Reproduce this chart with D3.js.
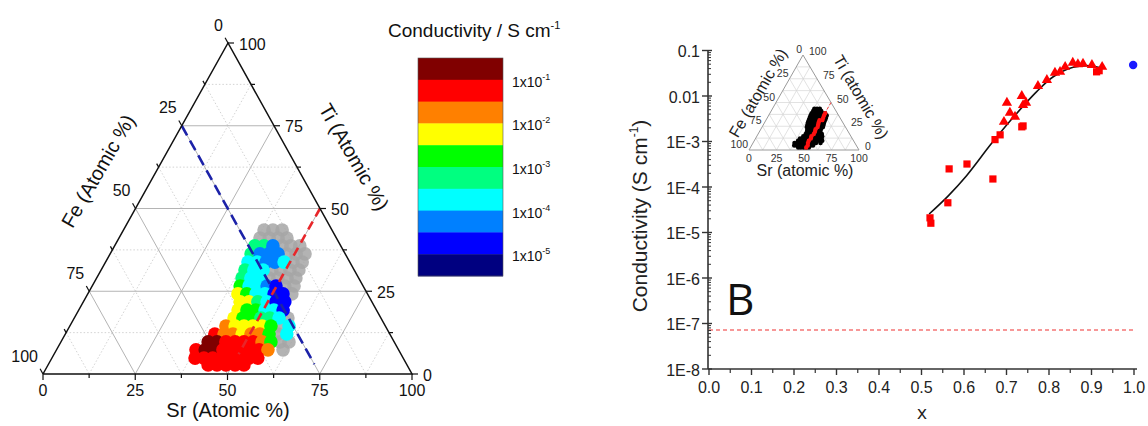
<!DOCTYPE html>
<html><head><meta charset="utf-8">
<script src="https://cdn.jsdelivr.net/npm/d3@7"></script>
<style>body{margin:0;background:#fff}svg{display:block;font-family:"Liberation Sans",Arial,sans-serif}</style>
</head><body><svg id="c" width="1148" height="426"></svg>
<script>
// ---------------- DATA ----------------
// Ternary composition map (Sr %, Ti %, Fe = 100 - Sr - Ti); log10 conductivity, null = below detection (grey)
const ternSr = [38.1,40.5,43.0,
 38.2,40.7,43.1,45.5,
 38.0,40.5,42.9,45.4,47.8,50.2,
 38.2,40.6,43.0,45.5,47.9,50.4,52.8,
 38.6,41.1,43.5,45.9,48.4,50.8,53.3,
 39.0,41.4,43.9,46.3,48.7,51.2,53.6,
 39.4,41.8,44.3,46.7,49.1,51.6,54.0,
 40.1,42.5,44.9,47.4,49.8,52.2,54.7,
 40.7,43.1,45.6,48.0,50.5,52.9,55.3,
 42.5,44.9,47.3,49.8,52.2,54.6,
 43.2,45.6,48.0,50.5,52.9,55.4,
 43.3,45.7,48.2,50.6,53.0,55.5,57.9,
 42.3,44.8,47.2,49.6,52.1,54.5,56.9,59.4,
 40.5,43.0,45.4,47.9,50.3,52.7,55.2,57.6,60.0,
 39.9,42.3,44.7,47.2,49.6,52.1,54.5,56.9,59.4,61.8,
 37.8,40.3,42.7,45.1,47.6,50.0,52.4,54.9,57.3,61.4,
 38.8,41.2,43.6,46.1,48.5,51.0,53.4,55.8,
 43.4,45.8,48.2,50.7,53.1];
const ternTi = [43.5,43.5,43.5,
 41.1,41.1,41.1,41.1,
 38.7,38.7,38.7,38.7,38.7,38.7,
 36.3,36.3,36.3,36.3,36.3,36.3,36.3,
 33.8,33.8,33.8,33.8,33.8,33.8,33.8,
 31.4,31.4,31.4,31.4,31.4,31.4,31.4,
 29.0,29.0,29.0,29.0,29.0,29.0,29.0,
 26.6,26.6,26.6,26.6,26.6,26.6,26.6,
 24.2,24.2,24.2,24.2,24.2,24.2,24.2,
 21.8,21.8,21.8,21.8,21.8,21.8,
 19.3,19.3,19.3,19.3,19.3,19.3,
 16.9,16.9,16.9,16.9,16.9,16.9,16.9,
 14.5,14.5,14.5,14.5,14.5,14.5,14.5,14.5,
 12.1,12.1,12.1,12.1,12.1,12.1,12.1,12.1,12.1,
 9.7,9.7,9.7,9.7,9.7,9.7,9.7,9.7,9.7,9.7,
 7.3,7.3,7.3,7.3,7.3,7.3,7.3,7.3,7.3,7.3,
 4.8,4.8,4.8,4.8,4.8,4.8,4.8,4.8,
 2.7,2.7,2.7,2.7,2.7];
const ternLogCond = [null,null,null,
 null,null,null,null,
 -3.25,-3.25,-4.25,null,null,null,
 -3.25,-4.25,-4.25,-4.25,null,null,null,
 -3.75,-3.75,-4.25,-4.25,-3.75,null,null,
 -3.25,-3.75,-3.75,null,null,null,null,
 -3.25,-3.75,-3.75,null,null,null,null,
 -2.75,-3.75,-3.75,-4.25,-4.75,null,null,
 -2.25,-2.75,-3.75,-3.75,-4.75,-4.75,null,
 -2.25,-2.25,-3.25,-3.75,-4.75,-4.75,
 -2.25,-2.75,-2.75,-3.75,-3.75,-4.75,
 -2.25,-2.75,-2.75,-3.25,-3.25,-3.75,null,
 -1.75,-2.25,-2.25,-2.25,-2.25,-2.75,null,-3.75,
 -1.25,-1.75,-1.75,-2.25,-1.75,-1.75,-2.75,null,-3.75,
 -0.75,-0.75,-1.25,-1.25,-1.25,-1.25,-1.75,-2.75,null,null,
 -1.25,-0.75,-0.75,-1.25,-1.25,-1.25,-1.25,-1.25,-1.75,null,
 -1.25,-1.25,-1.25,-1.25,-1.25,-1.25,-1.25,-1.25,
 -1.25,-1.25,-1.25,-1.25,-1.25];
const ternTickValues = [0,25,50,75,100];
const bandColors = ["#000080","#0000ff","#0080ff","#00ffff","#00ff80","#00ff00","#ffff00","#ff8000","#ff0000","#800000"];
const bandEdges = [-5,-4.5,-4,-3.5,-3,-2.5,-2,-1.5,-1];
const colorbarLabelExp = [-1,-2,-3,-4,-5];

// Right panel: conductivity vs x
const squareX = [0.520,0.522,0.562,0.565,0.607,0.668,0.673,0.685,0.736,0.739,0.912,0.918];
const squareC = [2.1e-5,1.6e-5,4.5e-5,2.5e-4,3.2e-4,1.5e-4,1.1e-3,1.4e-3,2.1e-3,2.2e-3,0.034,0.036];
const triX = [0.694,0.701,0.708,0.720,0.736,0.739,0.746,0.774,0.795,0.814,0.826,0.838,0.856,0.868,0.880,0.901,0.925];
const triC = [2.7e-3,7.1e-3,4.3e-3,3.5e-3,0.010,6.3e-3,7.1e-3,0.0166,0.0224,0.0324,0.0339,0.0437,0.0537,0.050,0.0513,0.0479,0.0437];
const circX = [0.998];
const circC = [0.048];
const fitX = [0.518,0.563,0.606,0.665,0.716,0.771,0.810,0.857,0.896,0.924];
const fitC = [2.55e-5,6.4e-5,1.77e-4,9.1e-4,3.4e-3,0.01245,0.0265,0.0428,0.0463,0.0406];
const thresholdC = 7.2e-8;
const xTickValues = [0,0.1,0.2,0.3,0.4,0.5,0.6,0.7,0.8,0.9,1.0];
const yTickValues = [1e-8,1e-7,1e-6,1e-5,1e-4,1e-3,0.01,0.1];
const yTickLabels = ["1E-8","1E-7","1E-6","1E-5","1E-4","1E-3","0.01","0.1"];

// ---------------- DRAW ----------------
const svg = d3.select("#c");
const color = d3.scaleThreshold().domain(bandEdges).range(bandColors);

function ternProj(BL, BR, T) {
  const a = d3.scaleLinear([0,100],[0, BR[0]-BL[0]]);
  const bx = d3.scaleLinear([0,100],[0, T[0]-BL[0]]);
  const by = d3.scaleLinear([0,100],[BL[1], T[1]]);
  return (sr, ti) => [BL[0] + a(sr) + bx(ti), by(ti)];
}
const line2 = (g, p, q) => g.append("line").attr("x1",p[0]).attr("y1",p[1]).attr("x2",q[0]).attr("y2",q[1]);

// ---- main ternary ----
const BL=[43,374], BR=[412,374], TP=[228,43];
const tp = ternProj(BL,BR,TP);
const gT = svg.append("g");
const gridVals = [12.5,25,37.5,50,62.5,75,87.5];
gridVals.forEach(v => {
  const major = v % 25 === 0;
  const segs = [[[0,v],[100-v,v]], [[v,0],[v,100-v]], [[0,100-v],[100-v,0]]];
  segs.forEach(s => {
    const l = line2(gT, tp(...s[0]), tp(...s[1]));
    if (major) l.attr("stroke","#b4b4b4").attr("stroke-width",1);
    else l.attr("stroke","#c8c8c8").attr("stroke-width",0.8).attr("stroke-dasharray","1.5,2");
  });
});
const idx = d3.range(ternSr.length);
const ordered = idx.filter(i=>ternLogCond[i]===null).concat(idx.filter(i=>ternLogCond[i]!==null));
gT.append("g").selectAll("circle").data(ordered).join("circle")
  .attr("cx", i=>tp(ternSr[i],ternTi[i])[0]).attr("cy", i=>tp(ternSr[i],ternTi[i])[1])
  .attr("r", 6.8)
  .attr("fill", i=> ternLogCond[i]===null ? "#a6a6a6" : color(ternLogCond[i]))
  .attr("fill-opacity", i=> ternLogCond[i]===null ? 0.85 : 1);
line2(gT, tp(0,75), tp(72,3)).attr("stroke","#1c22a8").attr("stroke-width",2.6).attr("stroke-dasharray","11,6");
line2(gT, tp(50,50), tp(50,6)).attr("stroke","#e8262a").attr("stroke-width",2.6).attr("stroke-dasharray","9,6");
gT.append("path").attr("d", d3.line()([BL,BR,TP,BL])).attr("fill","none").attr("stroke","#111").attr("stroke-width",1.5);
const allTicks = [0,12.5,25,37.5,50,62.5,75,87.5,100];
allTicks.forEach(v => {
  const len = v % 25 === 0 ? 6 : 4;
  let p = tp(v,0); line2(gT,p,[p[0],p[1]+len]).attr("stroke","#111").attr("stroke-width",1.2);
  p = tp(100-v,v); line2(gT,p,[p[0]+len,p[1]]).attr("stroke","#111").attr("stroke-width",1.2);
  p = tp(0,100-v); line2(gT,p,[p[0]-0.49*len,p[1]-0.87*len]).attr("stroke","#111").attr("stroke-width",1.2);
});
const tl = gT.append("g").attr("font-size",16).attr("fill","#111");
ternTickValues.forEach(v => {
  let p = tp(v,0);
  tl.append("text").attr("x",p[0]).attr("y",p[1]+22).attr("text-anchor","middle").text(v);
  p = tp(100-v,v);
  tl.append("text").attr("x",p[0]+11).attr("y",p[1]+1).attr("dominant-baseline","central").text(v);
  p = tp(0,100-v);
  tl.append("text").attr("x",p[0]-5).attr("y",p[1]-18).attr("text-anchor","end").attr("dominant-baseline","central").text(v);
});
const at = gT.append("g").attr("font-size",20).attr("fill","#111");
at.append("text").attr("x",228).attr("y",417).attr("text-anchor","middle").text("Sr (Atomic %)");
at.append("text").attr("transform","translate(98,171) rotate(-60)").attr("text-anchor","middle").attr("dominant-baseline","central").text("Fe (Atomic %)");
at.append("text").attr("transform","translate(354,157) rotate(60)").attr("text-anchor","middle").attr("dominant-baseline","central").text("Ti (Atomic %)");

// ---- colour bar ----
const cbX = 418, cbW = 85;
const cbY = d3.scaleLinear().domain([-0.5,-5.5]).range([58,276]);
const gC = svg.append("g");
const bandsTopDown = bandColors.slice().reverse();
gC.selectAll("rect").data(bandsTopDown).join("rect")
  .attr("x",cbX).attr("width",cbW)
  .attr("y",(d,i)=>cbY(-0.5-0.5*i)).attr("height",(d,i)=>cbY(-1-0.5*i)-cbY(-0.5-0.5*i)+0.4)
  .attr("fill",d=>d);
gC.append("rect").attr("x",cbX).attr("y",58).attr("width",cbW).attr("height",218).attr("fill","none").attr("stroke","#555").attr("stroke-width",0.6);
colorbarLabelExp.forEach(e => {
  const t = gC.append("text").attr("x",cbX+94).attr("y",cbY(e)+7).attr("font-size",14).attr("fill","#111");
  t.append("tspan").text("1x10");
  t.append("tspan").attr("font-size",9).attr("dy",-7).text(e);
});
const ct = gC.append("text").attr("x",388).attr("y",37).attr("font-size",19).attr("fill","#111");
ct.append("tspan").text("Conductivity / S cm");
ct.append("tspan").attr("font-size",11).attr("dy",-8).text("-1");

// ---- right chart ----
const xS = d3.scaleLinear().domain([0,1]).range([709,1134]);
const yS = d3.scaleLog().domain([1e-8,0.1]).range([369,50.5]);
const gR = svg.append("g");
gR.append("line").attr("x1",xS(0)).attr("x2",xS(1)).attr("y1",yS(thresholdC)).attr("y2",yS(thresholdC))
  .attr("stroke","#f03030").attr("stroke-width",1.2).attr("stroke-dasharray","4,3");
const ax0 = xS(0)-1;
gR.append("line").attr("x1",ax0).attr("x2",ax0).attr("y1",yS(0.1)).attr("y2",yS(1e-8)).attr("stroke","#333").attr("stroke-width",1.6);
gR.append("line").attr("x1",ax0).attr("x2",xS(1)+3).attr("y1",yS(1e-8)).attr("y2",yS(1e-8)).attr("stroke","#333").attr("stroke-width",1.6);
yTickValues.forEach((v,i) => {
  gR.append("line").attr("x1",ax0-6).attr("x2",ax0+4).attr("y1",yS(v)).attr("y2",yS(v)).attr("stroke","#333").attr("stroke-width",1.4);
  gR.append("text").attr("x",ax0-8).attr("y",yS(v)+1).attr("text-anchor","end").attr("dominant-baseline","central")
    .attr("font-size",16).attr("fill","#222").text(yTickLabels[i]);
  if (i < yTickValues.length-1) {
    for (let m=2;m<=9;m++) {
      const y = yS(v*m);
      gR.append("line").attr("x1",ax0).attr("x2",ax0+3).attr("y1",y).attr("y2",y).attr("stroke","#333").attr("stroke-width",1);
    }
  }
});
xTickValues.forEach((v,i) => {
  gR.append("line").attr("x1",xS(v)).attr("x2",xS(v)).attr("y1",yS(1e-8)).attr("y2",yS(1e-8)+6).attr("stroke","#333").attr("stroke-width",1.4);
  if (i < xTickValues.length-1) {
    const m = xS(v+0.05);
    gR.append("line").attr("x1",m).attr("x2",m).attr("y1",yS(1e-8)).attr("y2",yS(1e-8)+4).attr("stroke","#333").attr("stroke-width",1.2);
  }
  gR.append("text").attr("x",xS(v)).attr("y",393).attr("text-anchor","middle").attr("font-size",16).attr("fill","#222").text(v.toFixed(1));
});
const yl = gR.append("text").attr("transform","translate(647,216) rotate(-90)").attr("text-anchor","middle").attr("font-size",21).attr("fill","#222");
yl.append("tspan").text("Conductivity (S cm");
yl.append("tspan").attr("font-size",12).attr("dy",-9).text("-1");
yl.append("tspan").attr("dy",9).text(")");
gR.append("text").attr("x",922).attr("y",419).attr("text-anchor","middle").attr("font-size",19).attr("font-family","'Open Sans',sans-serif").attr("fill","#222").text("x");
gR.append("text").attr("x",726).attr("y",315).attr("font-size",44).attr("font-family","'Open Sans',sans-serif").attr("fill","#111").text("B");
gR.append("path").attr("d", d3.line().curve(d3.curveCatmullRom).x((d,i)=>xS(fitX[i])).y((d,i)=>yS(fitC[i]))(fitX))
  .attr("fill","none").attr("stroke","#111").attr("stroke-width",1.6);
gR.append("g").selectAll("path").data(squareX).join("path")
  .attr("transform",(d,i)=>`translate(${xS(d)},${yS(squareC[i])})`).attr("d",d3.symbol(d3.symbolSquare,52)).attr("fill","#ff0000");
gR.append("g").selectAll("path").data(triX).join("path")
  .attr("transform",(d,i)=>`translate(${xS(d)},${yS(triC[i])})`).attr("d",d3.symbol(d3.symbolTriangle,46)).attr("fill","#ff0000");
gR.append("g").selectAll("circle").data(circX).join("circle")
  .attr("cx",d=>xS(d)).attr("cy",(d,i)=>yS(circC[i])).attr("r",4.2).attr("fill","#1a1aff");

// ---- inset ternary ----
const iBL=[749,150], iBR=[859,150], iT=[803,55];
const ip = ternProj(iBL,iBR,iT);
const gI = svg.append("g");
gridVals.forEach(v => {
  [[[0,v],[100-v,v]], [[v,0],[v,100-v]], [[0,100-v],[100-v,0]]].forEach(s => {
    line2(gI, ip(...s[0]), ip(...s[1])).attr("stroke","#d6d6d6").attr("stroke-width",0.7);
  });
});
gI.append("path").attr("d", d3.line()([iBL,iBR,iT,iBL])).attr("fill","none").attr("stroke","#9a9a9a").attr("stroke-width",1);
gI.append("g").selectAll("circle").data(idx).join("circle")
  .attr("cx",i=>ip(ternSr[i],ternTi[i])[0]).attr("cy",i=>ip(ternSr[i],ternTi[i])[1]).attr("r",2.3).attr("fill","#000");
line2(gI, ip(50,50), ip(50,0)).attr("stroke","#ff3030").attr("stroke-width",0.9).attr("stroke-dasharray","3,2");
gI.append("g").selectAll("circle").data(idx.filter(i=>Math.abs(ternSr[i]-50)<1.5)).join("circle")
  .attr("cx",i=>ip(ternSr[i],ternTi[i])[0]).attr("cy",i=>ip(ternSr[i],ternTi[i])[1]).attr("r",2.2).attr("fill","#ff1010");
const il = gI.append("g").attr("font-size",10.5).attr("fill","#333");
ternTickValues.forEach(v => {
  let p = ip(v,0);
  il.append("text").attr("x",p[0]).attr("y",p[1]+11.5).attr("text-anchor","middle").text(v);
  p = ip(100-v,v);
  il.append("text").attr("x",p[0]+6).attr("y",p[1]-4).attr("dominant-baseline","central").text(v);
  p = ip(0,100-v);
  il.append("text").attr("x",p[0]-1).attr("y",p[1]-6).attr("text-anchor","end").attr("dominant-baseline","central").text(v);
});
const it = gI.append("g").attr("font-size",16).attr("fill","#222");
it.append("text").attr("x",805).attr("y",176).attr("text-anchor","middle").text("Sr (atomic %)");
it.append("text").attr("transform","translate(758,93) rotate(-60)").attr("text-anchor","middle").attr("dominant-baseline","central").text("Fe (atomic %)");
it.append("text").attr("transform","translate(861,97) rotate(60)").attr("text-anchor","middle").attr("dominant-baseline","central").text("Ti (atomic %)");
</script></body></html>
